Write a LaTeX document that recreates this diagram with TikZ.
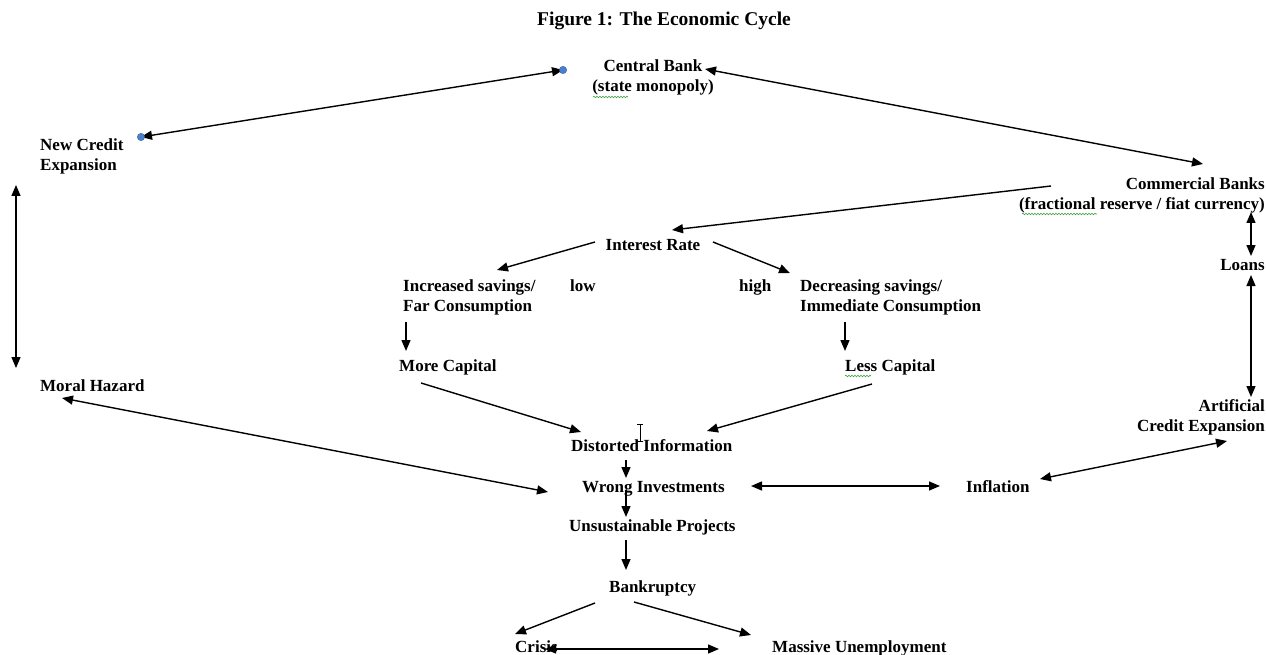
\documentclass[tikz,border=0pt]{standalone}
\usepackage{fontspec}
\setmainfont{Liberation Serif}
\usetikzlibrary{arrows.meta,decorations.pathmorphing}
\definecolor{handle}{HTML}{4A7FD0}
\definecolor{spell}{HTML}{3FA03F}
\begin{document}
\begin{tikzpicture}[x=1pt,y=-1pt,
  lbl/.style={font=\fontsize{17}{20}\selectfont\bfseries, inner sep=0pt},
  tip/.tip={Triangle[length=11pt,width=9pt]},
  conn/.style={line width=1.4pt, -tip},
  dbl/.style={line width=1.4pt, tip-tip},
  wavy/.style={spell, line width=0.6pt, decorate, decoration={snake, segment length=3pt, amplitude=0.8pt}},
  dotstyle/.style={circle, fill=handle, draw=handle!70!black, line width=0.3pt, inner sep=0pt, minimum size=7.5pt}]
\useasboundingbox (0,0) rectangle (1266,655);

% ---------- texts ----------
\node[lbl, anchor=base] (title) at (664,26) {\fontsize{19.5}{22}\selectfont Figure 1: The Economic Cycle};
\node[lbl, anchor=base] (cb1) at (653,72) {Central Bank};
\node[lbl, anchor=base] (cb2) at (653,92) {(state monopoly)};
\node[lbl, anchor=base west] (nc1) at (40,151) {New Credit};
\node[lbl, anchor=base west] (nc2) at (40,171) {Expansion};
\node[lbl, anchor=base east] (com1) at (1265,190) {Commercial Banks};
\node[lbl, anchor=base east] (com2) at (1265,210) {(fractional reserve / fiat currency)};
\node[lbl, anchor=base] (ir) at (653,250) {Interest Rate};
\node[lbl, anchor=base west] (inc1) at (403,291) {Increased savings/};
\node[lbl, anchor=base west] (inc2) at (403,311) {Far Consumption};
\node[lbl, anchor=base west] (low) at (570,291) {low};
\node[lbl, anchor=base west] (high) at (739,291) {high};
\node[lbl, anchor=base west] (dec1) at (800,291) {Decreasing savings/};
\node[lbl, anchor=base west] (dec2) at (800,311) {Immediate Consumption};
\node[lbl, anchor=base east] (loans) at (1265,270) {Loans};
\node[lbl, anchor=base west] (more) at (399,371) {More Capital};
\node[lbl, anchor=base west] (less) at (845,371) {Less Capital};
\node[lbl, anchor=base west] (moral) at (40,391) {Moral Hazard};
\node[lbl, anchor=base east] (art1) at (1265,411) {Artificial};
\node[lbl, anchor=base east] (art2) at (1265,431) {Credit Expansion};
\node[lbl, anchor=base west] (dist) at (571,451) {Distorted Information};
\node[lbl, anchor=base west] (wrong) at (582,492) {Wrong Investments};
\node[lbl, anchor=base west] (infl) at (966,492) {Inflation};
\node[lbl, anchor=base west] (uns) at (569,531) {Unsustainable Projects};
\node[lbl, anchor=base west] (bank) at (609,592) {Bankruptcy};
\node[lbl, anchor=base west] (crisis) at (515,652) {Crisis};
\node[lbl, anchor=base west] (mass) at (772,652) {Massive Unemployment};

% ---------- connector end points ----------
\coordinate (ncE) at (141,137);   \coordinate (cbW) at (563,70);
\coordinate (cbE) at (705,69);    \coordinate (comN) at (1203,164);
\coordinate (comW) at (1051,186); \coordinate (irN) at (672,230);
\coordinate (irL) at (595,242);   \coordinate (incN) at (497,270);
\coordinate (irR) at (713,242);   \coordinate (decN) at (790,273);
\coordinate (incS) at (406,322);  \coordinate (moreN) at (406,351);
\coordinate (decS) at (845,322);  \coordinate (lessN) at (845,351);
\coordinate (moreS) at (421,383); \coordinate (distL) at (581,432);
\coordinate (lessS) at (872,384); \coordinate (distR) at (707,431);
\coordinate (distS) at (626,460); \coordinate (wrongN) at (626,478);
\coordinate (wrongS) at (626,490);\coordinate (unsN) at (626,517);
\coordinate (unsS) at (626,540);  \coordinate (bankN) at (626,570);
\coordinate (bankL) at (595,603); \coordinate (crisisN) at (515,634);
\coordinate (bankR) at (634,602); \coordinate (massN) at (751,635);
\coordinate (crisisE) at (545,649); \coordinate (massW) at (719,649);
\coordinate (wrongE) at (751,486); \coordinate (inflW) at (940,486);
\coordinate (inflE) at (1040,479); \coordinate (artW) at (1227,441);
\coordinate (moralS) at (62,398);  \coordinate (wrongW) at (548,492);
\coordinate (ncS) at (16,185);     \coordinate (moralN) at (16,368);
\coordinate (comS) at (1251,212);  \coordinate (loansN) at (1251,256);
\coordinate (loansS) at (1251,275); \coordinate (artN) at (1251,397);

% ---------- connectors ----------
\draw[dbl] (ncE) -- (cbW);
\draw[dbl] (cbE) -- (comN);
\draw[conn] (comW) -- (irN);
\draw[conn] (irL) -- (incN);
\draw[conn] (irR) -- (decN);
\draw[conn] (incS) -- (moreN);
\draw[conn] (decS) -- (lessN);
\draw[conn] (moreS) -- (distL);
\draw[conn] (lessS) -- (distR);
\draw[conn] (distS) -- (wrongN);
\draw[conn] (wrongS) -- (unsN);
\draw[conn] (unsS) -- (bankN);
\draw[conn] (bankL) -- (crisisN);
\draw[conn] (bankR) -- (massN);
\draw[dbl] (crisisE) -- (massW);
\draw[dbl] (wrongE) -- (inflW);
\draw[dbl] (inflE) -- (artW);
\draw[dbl] (moralS) -- (wrongW);
\draw[dbl] (ncS) -- (moralN);
\draw[dbl] (comS) -- (loansN);
\draw[dbl] (loansS) -- (artN);

% ---------- selection handles ----------
\node[dotstyle] (h1) at (ncE) {};
\node[dotstyle] (h2) at (cbW) {};

% ---------- spell-check underlines ----------
\draw[wavy] (593,97) -- (628,97);
\draw[wavy] (1022,214) -- (1097,214);
\draw[wavy] (845,376) -- (871,376);

% ---------- text cursor ----------
\draw[line width=0.8pt] (640,424) -- (640,441);
\draw[line width=0.6pt] (637,424) -- (643,424) (637,441) -- (643,441);
\end{tikzpicture}
\end{document}
